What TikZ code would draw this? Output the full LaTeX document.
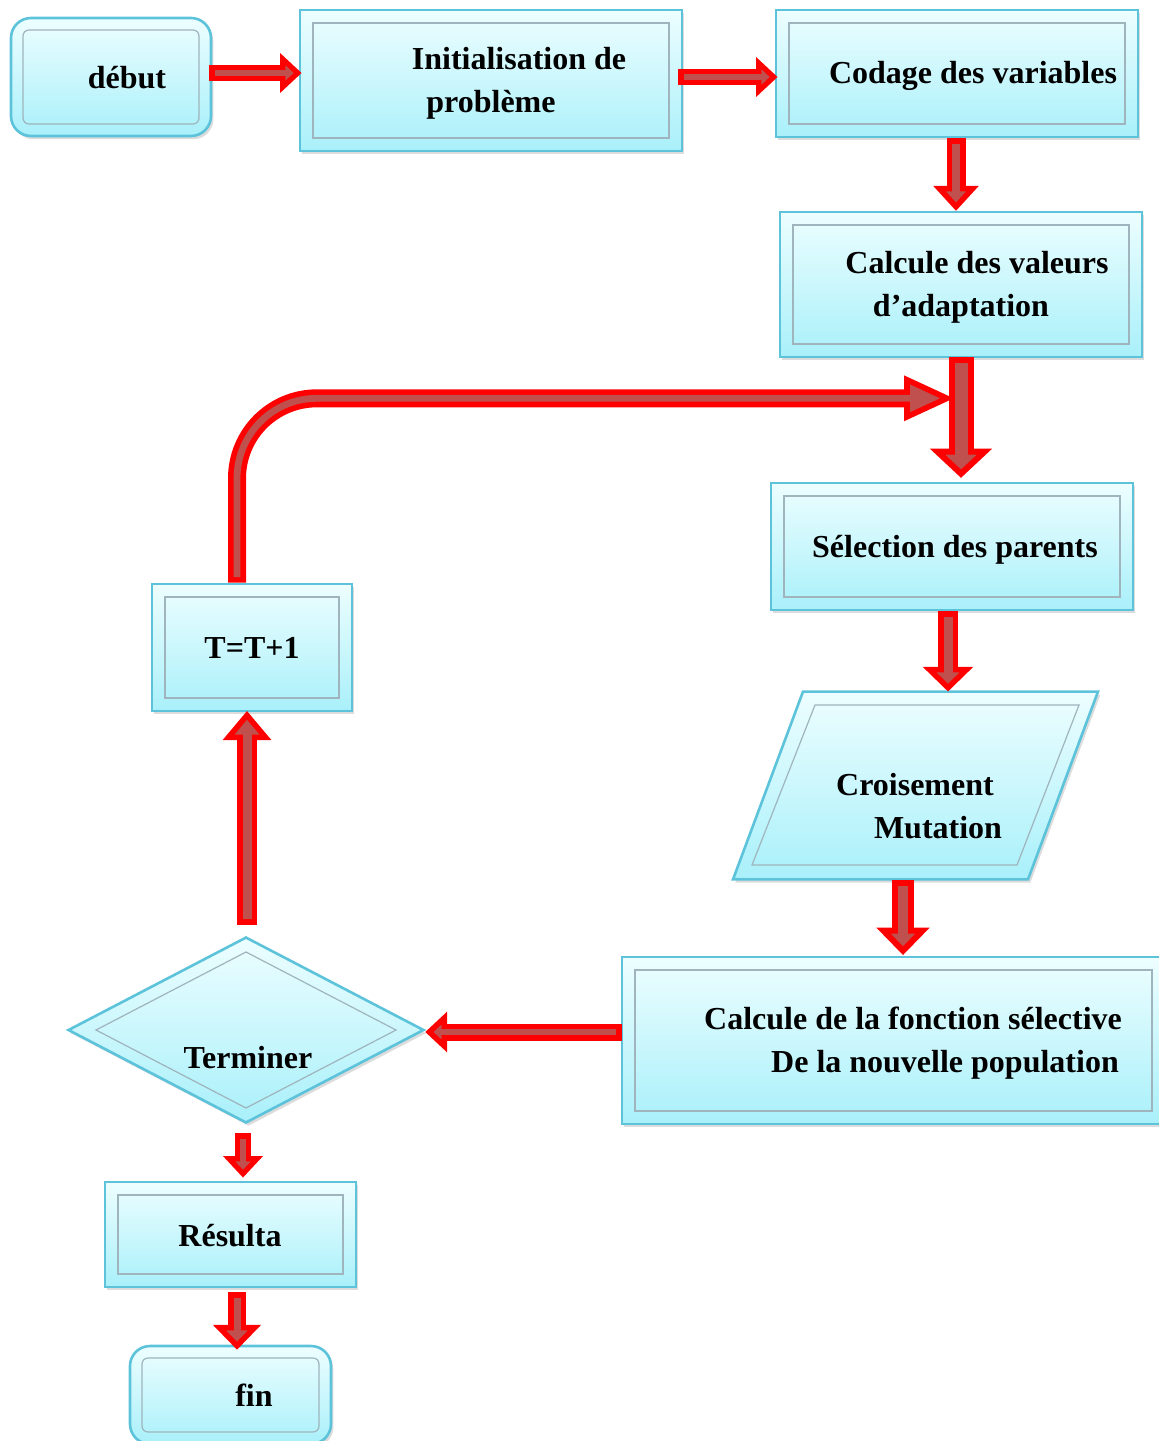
\documentclass[tikz,border=0pt]{standalone}
\usepackage{fontspec}
\setmainfont{Liberation Serif}
\usetikzlibrary{calc,shapes.geometric,shadows}

\definecolor{boxtop}{HTML}{EDFEFF}
\definecolor{boxbot}{HTML}{A9F0FA}
\definecolor{boxedge}{HTML}{5DC3DA}
\definecolor{boxinner}{HTML}{9FB4BC}
\definecolor{arrred}{HTML}{FF0000}
\definecolor{arrbody}{HTML}{C0504D}

\tikzset{
  panel/.style={draw=boxedge, line width=1.3pt, top color=boxtop, bottom color=boxbot,
    inner sep=0pt,
    drop shadow={shadow xshift=1.2pt, shadow yshift=-1.6pt, opacity=0.25, fill=black!55}},
  innerline/.style={draw=boxinner, line width=0.6pt},
  rectpanel/.style={panel, rectangle,
    path picture={\draw[innerline]
      ([shift={(6.5pt,6.5pt)}]path picture bounding box.south west) rectangle
      ([shift={(-6.5pt,-6.5pt)}]path picture bounding box.north east);}},
  roundpanel/.style={panel, rectangle, rounded corners=10pt,
    path picture={\draw[innerline, rounded corners=3pt]
      ([shift={(6pt,6pt)}]path picture bounding box.south west) rectangle
      ([shift={(-6pt,-6pt)}]path picture bounding box.north east);}},
  diampanel/.style={panel, diamond,
    path picture={\draw[innerline]
      ([xshift=-75pt]path picture bounding box.center) --
      ([yshift=39pt]path picture bounding box.center) --
      ([xshift=75pt]path picture bounding box.center) --
      ([yshift=-39pt]path picture bounding box.center) -- cycle;}},
  lbl/.style={font=\bfseries\fontsize{16pt}{20pt}\selectfont, anchor=base, inner sep=0pt},
  arrhead/.style={draw=arrred, fill=arrbody, line join=miter},
}

% block arrow: #1 start, #2 tip, #3 shaft width, #4 inner band width,
% #5 head half width, #6 head length
\newcommand\blockarr[6]{%
  \pgfmathsetlengthmacro\arband{(#3-#4)/2}%
  \coordinate (arbase) at ($(#2)!#6!(#1)$);
  \filldraw[arrhead, line width=\arband] ($(arbase)!#5!90:(#2)$) -- (#2) -- ($(arbase)!#5!-90:(#2)$) -- cycle;
  \draw[draw=arrred, line width=#3] (#1) -- (arbase);
  \draw[draw=arrbody, line width=#4, shorten <=\arband, shorten >=-\arband] (#1) -- (arbase);
}

\begin{document}
\begin{tikzpicture}[x=0.5pt, y=-0.5pt]
\useasboundingbox (0,0) rectangle (1158,1441);

% boxes
\node[roundpanel, minimum width=100pt, minimum height=59pt] (debut) at (111,77) {};
\node[rectpanel, minimum width=191pt, minimum height=70.5pt] (init) at (491,80.5) {};
\node[rectpanel, minimum width=181pt, minimum height=63.5pt] (codage) at (957,73.5) {};
\node[rectpanel, minimum width=181pt, minimum height=72.5pt] (calc) at (961,284.5) {};
\node[rectpanel, minimum width=181pt, minimum height=63.5pt] (sel) at (952,546.5) {};
\node[inner sep=0pt, minimum width=147.5pt, minimum height=93.5pt] (para) at (915.5,785.5) {};
\path[panel] ($(para.north)+(-112.5,0)$) -- ($(para.north)+(182.5,0)$)
  -- ($(para.south)+(112.5,0)$) -- ($(para.south)+(-182.5,0)$) -- cycle;
\draw[innerline] ($(para.center)+(-100.5,-80.5)$) -- ($(para.center)+(163.5,-80.5)$)
  -- ($(para.center)+(101.5,79.5)$) -- ($(para.center)+(-163.5,79.5)$) -- cycle;
\node[rectpanel, minimum width=271.5pt, minimum height=83.5pt] (fonc) at (893.5,1040.5) {};
\node[diampanel, minimum width=178pt, minimum height=93pt] (term) at (246,1030) {};
\node[rectpanel, minimum width=100pt, minimum height=63.5pt] (incr) at (252,647.5) {};
\node[rectpanel, minimum width=125.5pt, minimum height=52.5pt] (res) at (230.5,1234.5) {};
\node[roundpanel, minimum width=100.5pt, minimum height=49pt] (fin) at (230.5,1395) {};

% texts
\node[lbl] (t-debut) at (127,88) {début};
\node[lbl] (t-init1) at (519,69) {Initialisation de};
\node[lbl] (t-init2) at (491,112) {problème};
\node[lbl] (t-codage) at (973,83) {Codage des variables};
\node[lbl] (t-calc1) at (977,273) {Calcule des valeurs};
\node[lbl] (t-calc2) at (961,316) {d’adaptation};
\node[lbl] (t-sel) at (955,557) {Sélection des parents};
\node[lbl] (t-para1) at (915,795) {Croisement};
\node[lbl] (t-para2) at (938,838) {Mutation};
\node[lbl] (t-fonc1) at (913,1029) {Calcule de la fonction sélective};
\node[lbl] (t-fonc2) at (945,1072) {De la nouvelle population};
\node[lbl] (t-term) at (248,1068) {Terminer};
\node[lbl] (t-incr) at (252,658) {T=T+1};
\node[lbl] (t-res) at (230,1246) {Résulta};
\node[lbl] (t-fin) at (254,1406) {fin};

% arrow end points
\coordinate (a1s) at ($(debut.east)+(-3,-4)$);
\coordinate (a1e) at ($(a1s -| init.west)+(-1,0)$);
\coordinate (a2s) at ($(init.east)+(-5,-3.5)$);
\coordinate (a2e) at ($(a2s -| codage.west)+(-1,0)$);
\coordinate (a3s) at ($(codage.south)+(-1,0)$);
\coordinate (a3e) at ($(a3s |- calc.north)+(0,-4)$);
\coordinate (a4s) at ($(calc.south)+(0,-1)$);
\coordinate (a4e) at ($(a4s |- sel.north)+(0,-8)$);
\coordinate (a6s) at ($(sel.south)+(-4,0)$);
\coordinate (a6e) at ($(a6s |- para.north)+(0,-4)$);
\coordinate (a7s) at ($(para.south)+(-12.5,1)$);
\coordinate (a7e) at ($(a7s |- fonc.north)+(0,-5)$);
\coordinate (a8s) at ($(fonc.west)+(1,-8.5)$);
\coordinate (a8e) at ($(a8s -| term.east)+(4,0)$);
\coordinate (a9s) at ($(term.north)+(1,-11)$);
\coordinate (a9e) at ($(a9s |- incr.south)+(0,3)$);
\coordinate (a10s) at ($(term.south)+(-3,9)$);
\coordinate (a10e) at ($(a10s |- res.north)+(0,-7)$);
\coordinate (a11s) at ($(res.south)+(6.5,4)$);
\coordinate (a11e) at ($(a11s |- fin.north)+(0,1)$);

% straight connectors
\blockarr{a1s}{a1e}{8pt}{2.8pt}{7pt}{7.5pt}
\blockarr{a2s}{a2e}{8pt}{2.8pt}{7pt}{7.5pt}
\blockarr{a3s}{a3e}{9.5pt}{4pt}{8.25pt}{9pt}
\blockarr{a6s}{a6e}{10pt}{4.5pt}{9.25pt}{9pt}
\blockarr{a7s}{a7e}{11pt}{5pt}{9.75pt}{10pt}
\blockarr{a8s}{a8e}{8.5pt}{3pt}{7pt}{7.5pt}
\blockarr{a9s}{a9e}{10pt}{4.5pt}{9.25pt}{11pt}
\blockarr{a10s}{a10e}{8pt}{2.8pt}{7pt}{7.5pt}
\blockarr{a11s}{a11e}{9pt}{3.5pt}{8.75pt}{9pt}

% loop back from T=T+1 to the selection
\coordinate (lps) at ($(incr.north)+(-15,0)$);
\coordinate (lpe) at ($(calc.south)+(-14,40)$);
\coordinate (lpc) at (lps |- lpe);
\coordinate (lpb) at ($(lpe)!20pt!(lpc)$);
\filldraw[arrhead, line width=2.8pt] ($(lpb)!9.25pt!90:(lpe)$) -- (lpe) -- ($(lpb)!9.25pt!-90:(lpe)$) -- cycle;
\draw[draw=arrred, line width=9pt, rounded corners=40pt] (lps) -- (lpc) -- (lpb);
\draw[draw=arrbody, line width=3.4pt, rounded corners=40pt, shorten <=2.8pt, shorten >=-2.8pt] (lps) -- (lpc) -- (lpb);

% vertical connector into the selection, drawn over the loop tip
\blockarr{a4s}{a4e}{12.5pt}{6.5pt}{11.75pt}{11pt}
\end{tikzpicture}
\end{document}
